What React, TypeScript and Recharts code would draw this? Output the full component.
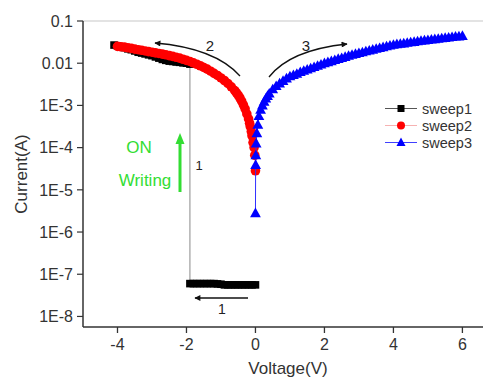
import React from 'react';
import { ScatterChart, Scatter, XAxis, YAxis, ReferenceLine, Legend } from 'recharts';

// ---- data (voltage in V, current in A) ----
const sweep1V = [0, -0.1, -0.2, -0.3, -0.4, -0.5, -0.6, -0.7, -0.8, -0.9, -1.0, -1.1, -1.2, -1.3, -1.4, -1.5, -1.6, -1.7, -1.8, -1.9,
  -1.9, -2.0, -2.1, -2.2, -2.3, -2.4, -2.5, -2.6, -2.7, -2.8, -2.9, -3.0, -3.1, -3.2, -3.3, -3.4, -3.5, -3.6, -3.7, -3.8, -3.9, -4.0, -4.1];
const sweep1I = [5.6e-8, 5.6e-8, 5.6e-8, 5.6e-8, 5.6e-8, 5.6e-8, 5.6e-8, 5.6e-8, 5.6e-8, 5.6e-8, 5.8e-8, 5.9e-8, 6.0e-8, 6.0e-8, 6.0e-8, 6.0e-8, 6.0e-8, 6.0e-8, 6.0e-8, 6.0e-8,
  9.5e-3, 1.0e-2, 1.02e-2, 1.05e-2, 1.07e-2, 1.1e-2, 1.12e-2, 1.17e-2, 1.23e-2, 1.32e-2, 1.41e-2, 1.51e-2, 1.58e-2, 1.66e-2, 1.74e-2, 1.82e-2, 1.95e-2, 2.09e-2, 2.19e-2, 2.34e-2, 2.45e-2, 2.57e-2, 2.69e-2];

const sweep2V = [0, -0.02, -0.04, -0.07, -0.1, -0.12, -0.15, -0.17, -0.2, -0.25, -0.3, -0.35, -0.4, -0.45, -0.5, -0.55, -0.6, -0.7, -0.8, -0.9, -1.0,
  -1.1, -1.2, -1.3, -1.4, -1.5, -1.6, -1.7, -1.8, -1.9, -2.0, -2.1, -2.2, -2.3, -2.4, -2.5, -2.6, -2.7, -2.8, -2.9, -3.0,
  -3.1, -3.2, -3.3, -3.4, -3.5, -3.6, -3.7, -3.8, -3.9, -4.0];
const sweep2I = [2.82e-5, 6.6e-5, 1.0e-4, 1.32e-4, 1.91e-4, 2.4e-4, 3.16e-4, 3.8e-4, 4.79e-4, 6.3e-4, 8.32e-4, 1.03e-3, 1.26e-3, 1.5e-3, 1.74e-3, 1.98e-3, 2.24e-3, 2.75e-3, 3.31e-3, 3.89e-3, 4.47e-3,
  5.13e-3, 5.75e-3, 6.46e-3, 7.24e-3, 7.94e-3, 8.71e-3, 9.44e-3, 1.02e-2, 1.1e-2, 1.17e-2, 1.24e-2, 1.32e-2, 1.38e-2, 1.45e-2, 1.51e-2, 1.58e-2, 1.64e-2, 1.7e-2, 1.76e-2, 1.82e-2,
  1.88e-2, 1.95e-2, 2.02e-2, 2.09e-2, 2.16e-2, 2.24e-2, 2.32e-2, 2.4e-2, 2.45e-2, 2.51e-2];

const sweep3V = [0, 0.005, 0.01, 0.02, 0.04, 0.07, 0.1, 0.15, 0.2, 0.25, 0.3, 0.35, 0.4, 0.5, 0.6, 0.7, 0.8, 0.9, 1.0,
  1.1, 1.2, 1.3, 1.4, 1.5, 1.6, 1.7, 1.8, 1.9, 2.0, 2.1, 2.2, 2.3, 2.4, 2.5, 2.6, 2.7, 2.8, 2.9, 3.0,
  3.1, 3.2, 3.3, 3.4, 3.5, 3.6, 3.7, 3.8, 3.9, 4.0, 4.1, 4.2, 4.3, 4.4, 4.5, 4.6, 4.7, 4.8, 4.9, 5.0,
  5.1, 5.2, 5.3, 5.4, 5.5, 5.6, 5.7, 5.8, 5.9, 6.0];
const sweep3I = [2.8e-6, 3.9e-5, 6.6e-5, 1.26e-4, 2.2e-4, 3.5e-4, 5.6e-4, 7.9e-4, 1.0e-3, 1.22e-3, 1.45e-3, 1.68e-3, 1.91e-3, 2.4e-3, 2.88e-3, 3.31e-3, 3.8e-3, 4.37e-3, 4.9e-3,
  5.25e-3, 5.62e-3, 6.17e-3, 6.61e-3, 7.08e-3, 7.59e-3, 8.13e-3, 8.71e-3, 9.33e-3, 1.0e-2, 1.06e-2, 1.12e-2, 1.19e-2, 1.26e-2, 1.33e-2, 1.41e-2, 1.5e-2, 1.58e-2, 1.66e-2, 1.74e-2,
  1.82e-2, 1.91e-2, 2.0e-2, 2.09e-2, 2.19e-2, 2.29e-2, 2.4e-2, 2.51e-2, 2.63e-2, 2.72e-2, 2.82e-2, 2.88e-2, 2.95e-2, 3.05e-2, 3.13e-2, 3.2e-2, 3.31e-2, 3.39e-2, 3.47e-2, 3.55e-2,
  3.63e-2, 3.72e-2, 3.8e-2, 3.89e-2, 3.98e-2, 4.07e-2, 4.17e-2, 4.27e-2, 4.32e-2, 4.42e-2];

const seriesNames = ['sweep1', 'sweep2', 'sweep3'];

const xMajorTicks = [-4, -2, 0, 2, 4, 6];
const xMinorTicks = [-5, -3, -1, 1, 3, 5];
const xTickLabels = ['-4', '-2', '0', '2', '4', '6'];

const yMajorTicks = [1e-8, 1e-7, 1e-6, 1e-5, 1e-4, 1e-3, 1e-2, 1e-1];
const yTickLabels = ['1E-8', '1E-7', '1E-6', '1E-5', '1E-4', '1E-3', '0.01', '0.1'];
const yMinorMultipliers = [2, 3, 4, 5, 6, 7, 8, 9];
const yBelowFirst = [6e-9, 7e-9, 8e-9, 9e-9];

const xDomain = [-5, 6.8];
const yDomain = [5.623e-9, 0.1];

// ---- build tables for the library ----
const toRows = (vs: number[], is: number[]) => vs.map((v, k) => ({ v, i: is[k] }));
const data1 = toRows(sweep1V, sweep1I);
const data2 = toRows(sweep2V, sweep2I);
const data3 = toRows(sweep3V, sweep3I);

const yMinorTicks = [
  ...yBelowFirst,
  ...yMajorTicks.slice(0, -1).flatMap((d) => yMinorMultipliers.map((m) => m * d)),
];

const FONT = '"Liberation Sans", Arial, Helvetica, sans-serif';
const AXIS = '#333';
const TEXT = '#333';

const fmtX = (v: number) => {
  const idx = xMajorTicks.findIndex((t) => Math.abs(t - v) < 1e-9);
  return idx >= 0 ? xTickLabels[idx] : '';
};
const fmtY = (v: number) => {
  const idx = yMajorTicks.findIndex((t) => Math.abs(Math.log10(t) - Math.log10(v)) < 1e-6);
  return idx >= 0 ? yTickLabels[idx] : '';
};
const EmptyTick = () => <g />;

const SquareDot = (p: any) => <rect x={p.cx - 3.8} y={p.cy - 3.8} width={7.6} height={7.6} fill="#000" />;
const CircleDot = (p: any) => <circle cx={p.cx} cy={p.cy} r={4.8} fill="#ff0000" />;
const TriDot = (p: any) => (
  <path d={`M${p.cx},${p.cy - 5.6} L${p.cx + 5.4},${p.cy + 4} L${p.cx - 5.4},${p.cy + 4} Z`} fill="#0000ff" />
);

const legendStyles = [
  { line: '#555', marker: 'square', color: '#000' },
  { line: '#f6b2b2', marker: 'circle', color: '#ff0000' },
  { line: '#4040ff', marker: 'triangle', color: '#0000ff' },
];

const renderLegend = () => (
  <div style={{ fontFamily: FONT, fontSize: 14.5, color: TEXT }}>
    {seriesNames.map((name, k) => {
      const s = legendStyles[k];
      return (
        <div key={name} style={{ display: 'flex', alignItems: 'center', height: 17 }}>
          <svg width={34} height={17} style={{ display: 'block' }}>
            <line x1={0} x2={32} y1={8.5} y2={8.5} stroke={s.line} strokeWidth={1} />
            {s.marker === 'square' && <rect x={12.5} y={5} width={7} height={7} fill={s.color} />}
            {s.marker === 'circle' && <circle cx={16} cy={8.5} r={4} fill={s.color} />}
            {s.marker === 'triangle' && <path d="M16,3.5 L20.5,12 L11.5,12 Z" fill={s.color} />}
          </svg>
          <span style={{ marginLeft: 3 }}>{name}</span>
        </div>
      );
    })}
  </div>
);

const Annotations = () => (
  <svg width={483} height={372} style={{ position: 'absolute', left: 0, top: 0, pointerEvents: 'none' }}>
    <defs>
      <marker id="ahB" viewBox="0 0 10 10" refX="9" refY="5" markerWidth="8" markerHeight="6" markerUnits="userSpaceOnUse" orient="auto">
        <path d="M0,0 L10,5 L0,10 Z" fill="#111" />
      </marker>
    </defs>
    <path d="M232,68 Q207,40 147,35" fill="none" stroke="#111" strokeWidth={1.3} markerEnd="url(#ahB)" />
    <text x={202} y={37} textAnchor="middle" dominantBaseline="central" fontSize={15} fontFamily={FONT} fill="#222">2</text>
    <path d="M261,69 Q282,42 339,36" fill="none" stroke="#111" strokeWidth={1.3} markerEnd="url(#ahB)" />
    <text x={298} y={37} textAnchor="middle" dominantBaseline="central" fontSize={15} fontFamily={FONT} fill="#222">3</text>
    <path d="M240,290 L187,290" fill="none" stroke="#111" strokeWidth={1.3} markerEnd="url(#ahB)" />
    <text x={214} y={301} textAnchor="middle" dominantBaseline="central" fontSize={14} fontFamily={FONT} fill="#222">1</text>
    <text x={191} y={157} textAnchor="middle" dominantBaseline="central" fontSize={13} fontFamily={FONT} fill="#222">1</text>
    <text x={131} y={139} textAnchor="middle" dominantBaseline="central" fontSize={17} fontFamily={FONT} fill="#33dd33">ON</text>
    <text x={137} y={172} textAnchor="middle" dominantBaseline="central" fontSize={17} fontFamily={FONT} fill="#33dd33">Writing</text>
    <line x1={172} x2={172} y1={184} y2={133} stroke="#33dd33" strokeWidth={3} />
    <path d="M172,125 L176.5,136 L167.5,136 Z" fill="#33dd33" />
    <text x={13} y={166} transform="rotate(-90 13 166)" textAnchor="middle" dominantBaseline="central" fontSize={17} fontFamily={FONT} fill={TEXT}>Current(A)</text>
    <text x={280} y={360} textAnchor="middle" dominantBaseline="central" fontSize={17} fontFamily={FONT} fill={TEXT}>Voltage(V)</text>
  </svg>
);

export default function App() {
  return (
    <div style={{ position: 'relative', width: 483, height: 372, background: '#fff' }}>
      <ScatterChart width={483} height={372} margin={{ top: 13, right: 1, bottom: 13, left: 15 }}>
        <XAxis
          xAxisId="minor"
          type="number"
          domain={xDomain}
          allowDataOverflow
          ticks={xMinorTicks}
          interval={0}
          tick={<EmptyTick />}
          tickSize={4}
          tickLine={{ stroke: AXIS, strokeWidth: 1.2 }}
          height={0}
          axisLine={false}
        />
        <XAxis
          type="number"
          dataKey="v"
          domain={xDomain}
          allowDataOverflow
          ticks={xMajorTicks}
          interval={0}
          tickFormatter={fmtX}
          tick={{ fontSize: 16, fontFamily: FONT, fill: TEXT }}
          tickSize={6}
          tickMargin={6}
          tickLine={{ stroke: AXIS, strokeWidth: 1.3 }}
          height={40}
          axisLine={{ stroke: AXIS, strokeWidth: 1.5 }}
        />
        <YAxis
          yAxisId="minor"
          type="number"
          scale="log"
          domain={yDomain}
          allowDataOverflow
          ticks={yMinorTicks}
          interval={0}
          tick={<EmptyTick />}
          tickSize={3.5}
          tickLine={{ stroke: AXIS, strokeWidth: 1 }}
          width={0}
          axisLine={false}
        />
        <YAxis
          type="number"
          dataKey="i"
          scale="log"
          domain={yDomain}
          allowDataOverflow
          ticks={yMajorTicks}
          interval={0}
          tickFormatter={fmtY}
          tick={{ fontSize: 16, fontFamily: FONT, fill: TEXT }}
          tickSize={6}
          tickMargin={4}
          tickLine={{ stroke: AXIS, strokeWidth: 1.2 }}
          width={60}
          axisLine={{ stroke: AXIS, strokeWidth: 1.5 }}
        />
        <ReferenceLine y={0.1} stroke="#c8c8c8" strokeWidth={1.2} />
        <Scatter name={seriesNames[0]} data={data1} line={{ stroke: '#8a8a8a', strokeWidth: 1 }} lineType="joint" shape={SquareDot} isAnimationActive={false} />
        <Scatter name={seriesNames[1]} data={data2} line={{ stroke: '#f08080', strokeWidth: 1 }} lineType="joint" shape={CircleDot} isAnimationActive={false} />
        <Scatter name={seriesNames[2]} data={data3} line={{ stroke: '#3030ff', strokeWidth: 1 }} lineType="joint" shape={TriDot} isAnimationActive={false} />
        <Legend
          layout="vertical"
          align="center"
          verticalAlign="middle"
          content={renderLegend}
          wrapperStyle={{ left: 377, top: 92, width: 110, height: 52 }}
        />
      </ScatterChart>
      <Annotations />
    </div>
  );
}
